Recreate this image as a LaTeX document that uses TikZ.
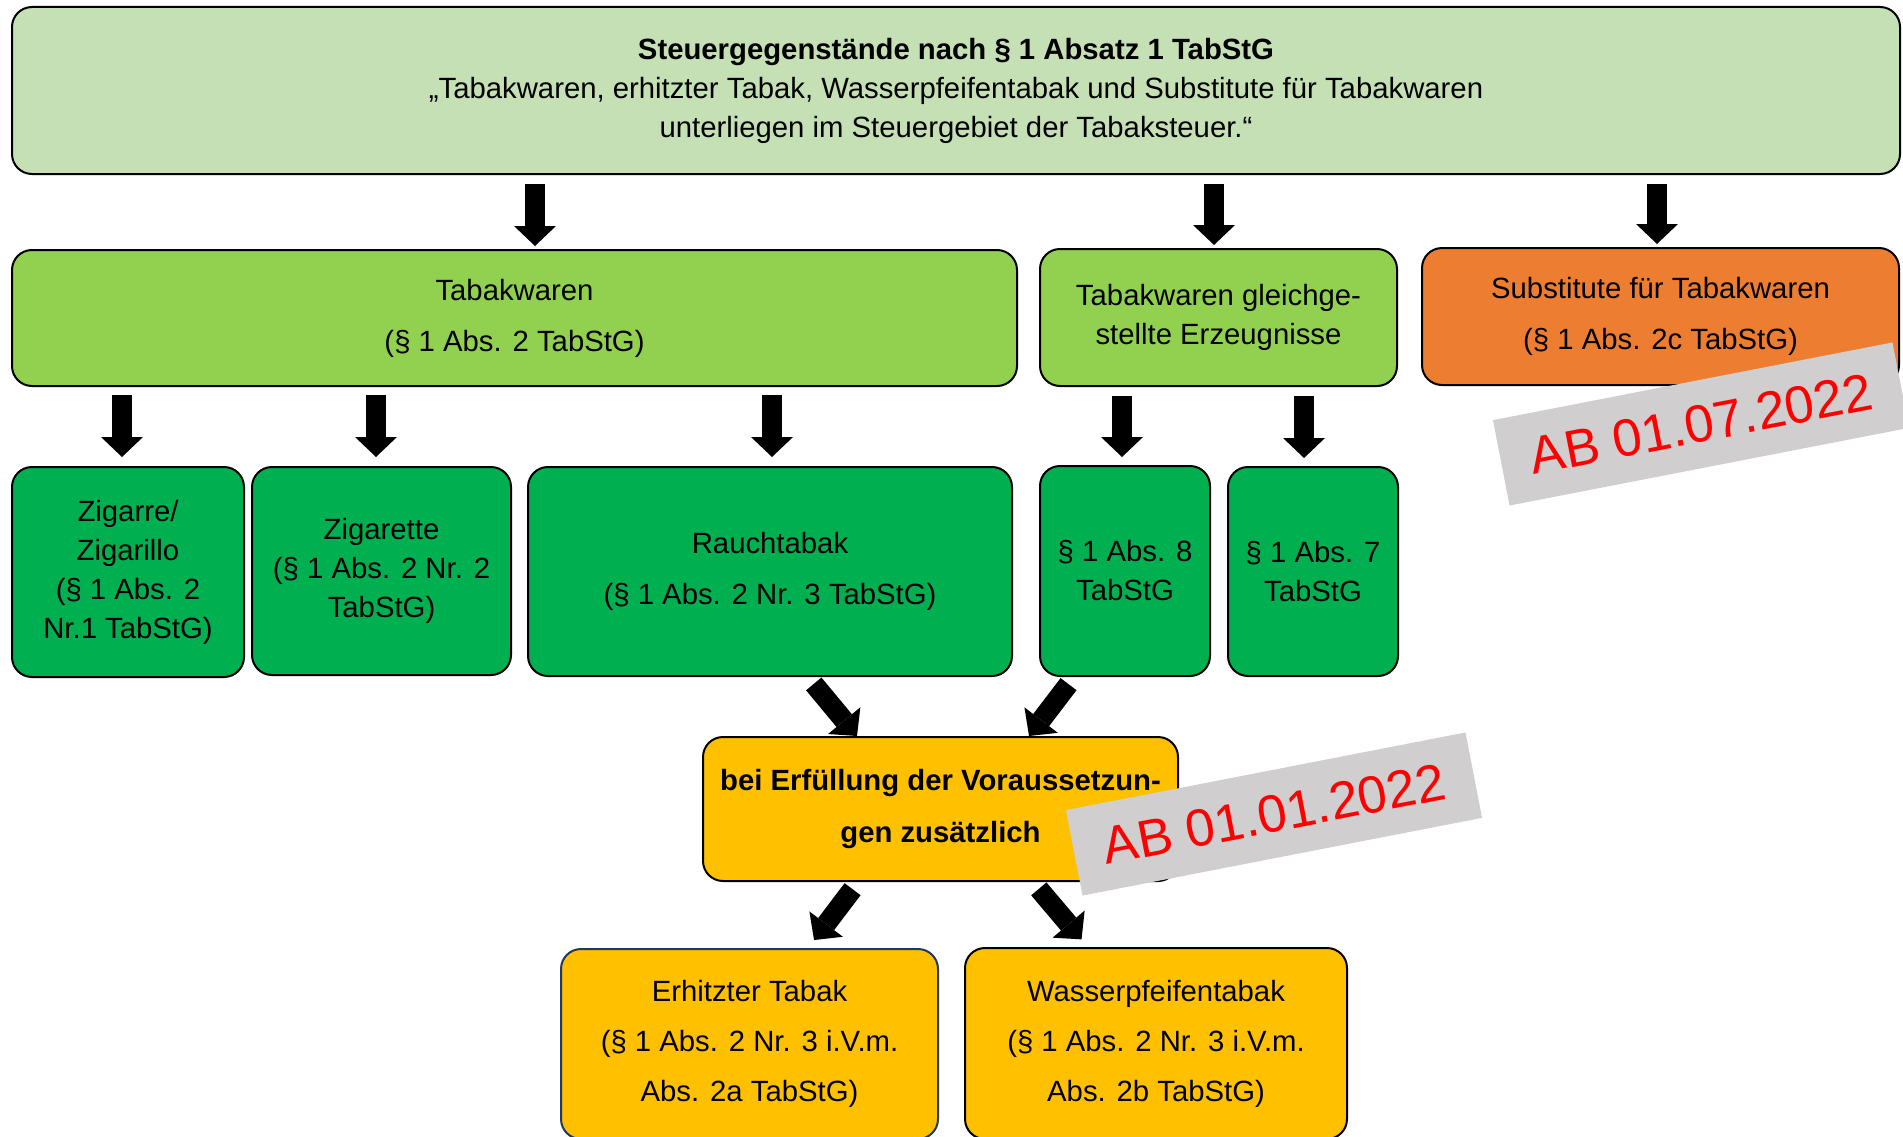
\documentclass[tikz,border=0pt]{standalone}
\usepackage{fontspec}
\setmainfont{Liberation Sans}
\usepackage{xcolor}
\usetikzlibrary{arrows.meta}
\definecolor{kopfgruen}{HTML}{C5E0B4}
\definecolor{hellgruen}{HTML}{92D050}
\definecolor{dunkelgruen}{HTML}{00B050}
\definecolor{substorange}{HTML}{ED7D31}
\definecolor{gelb}{HTML}{FFC000}
\definecolor{stempelgrau}{HTML}{D0CECE}
\definecolor{rahmenblau}{HTML}{1F3864}

\begin{document}
\begin{tikzpicture}[x=1pt,y=-1pt,
		kasten/.style={draw,line width=2pt,rounded corners=20pt,align=center,inner sep=0pt,font=\fontsize{29.3}{39}\selectfont},
		weit/.style={font=\fontsize{29.3}{51}\selectfont},
		pfeil/.style={line width=20pt,-{Triangle[width=42pt,length=20pt,line width=0pt]}},
		stempel/.style={fill=stempelgrau,text=red,rotate=11,minimum width=407pt,minimum height=87pt,inner sep=0pt,font=\fontsize{52.5}{60}\selectfont}]
			\useasboundingbox (0,0) rectangle (1903,1137);
			\clip (0,0) rectangle (1903,1137);
			
			\node[kasten,fill=kopfgruen,minimum width=1888pt,minimum height=167pt] (kopf) at (956,90.5)
				{\textbf{Steuergegenstände nach § 1 Absatz 1 TabStG}\\„Tabakwaren, erhitzter Tabak, Wasserpfeifentabak und Substitute für Tabakwaren\\unterliegen im Steuergebiet der Tabaksteuer.“};
			
			\node[kasten,weit,fill=hellgruen,minimum width=1005pt,minimum height=136pt] (tabak) at (514.5,318) {Tabakwaren\\(§ 1 Abs. 2 TabStG)};
			\node[kasten,fill=hellgruen,minimum width=357pt,minimum height=137pt] (gleich) at (1218.5,317.5) {Tabakwaren gleichge-\\stellte Erzeugnisse};
			\node[kasten,weit,fill=substorange,minimum width=477pt,minimum height=137pt] (subst) at (1660.5,316.5) {Substitute für Tabakwaren\\(§ 1 Abs. 2c TabStG)};
			
			\node[kasten,fill=dunkelgruen,minimum width=232pt,minimum height=210pt] (zigarre) at (128,572) {Zigarre/\\Zigarillo\\(§ 1 Abs. 2\\Nr.1 TabStG)};
			\node[kasten,fill=dunkelgruen,minimum width=259pt,minimum height=208pt] (zigarette) at (381.5,571) {Zigarette\\(§ 1 Abs. 2 Nr. 2\\TabStG)};
			\node[kasten,weit,fill=dunkelgruen,minimum width=484pt,minimum height=209pt] (rauch) at (770,571.5) {Rauchtabak\\(§ 1 Abs. 2 Nr. 3 TabStG)};
			\node[kasten,fill=dunkelgruen,minimum width=170pt,minimum height=210pt] (abs8) at (1125,571) {§ 1 Abs. 8\\TabStG};
			\node[kasten,fill=dunkelgruen,minimum width=170pt,minimum height=209pt] (abs7) at (1313,571.5) {§ 1 Abs. 7\\TabStG};
			
			\node[kasten,fill=gelb,minimum width=475pt,minimum height=144pt,font=\fontsize{29.3}{52}\selectfont\bfseries] (bei) at (940.5,809) {bei Erfüllung der Voraussetzun-\\gen zusätzlich};
			
			\node[kasten,fill=gelb,draw=rahmenblau,font=\fontsize{29.3}{50}\selectfont,minimum width=377pt,minimum height=190pt] (erhitzt) at (749.5,1044) {Erhitzter Tabak\\(§ 1 Abs. 2 Nr. 3 i.V.m.\\Abs. 2a TabStG)};
			\node[kasten,fill=gelb,font=\fontsize{29.3}{50}\selectfont,minimum width=382pt,minimum height=191pt] (wasser) at (1156,1043.5) {Wasserpfeifentabak\\(§ 1 Abs. 2 Nr. 3 i.V.m.\\Abs. 2b TabStG)};
			
			\draw[pfeil,shorten <=9pt,shorten >=3pt] (kopf.south -| 535,0) -- (tabak.north -| 535,0);
			\draw[pfeil,shorten <=9pt,shorten >=3pt] (kopf.south -| 1214,0) -- (gleich.north -| 1214,0);
			\draw[pfeil,shorten <=9pt,shorten >=3pt] (kopf.south -| 1657,0) -- (subst.north -| 1657,0);
			
			\draw[pfeil,shorten <=8pt,shorten >=9pt] (tabak.south -| 122,0) -- (zigarre.north -| 122,0);
			\draw[pfeil,shorten <=8pt,shorten >=9pt] (tabak.south -| 376,0) -- (zigarette.north -| 376,0);
			\draw[pfeil,shorten <=8pt,shorten >=9pt] (tabak.south -| 772,0) -- (rauch.north -| 772,0);
			\draw[pfeil,shorten <=9pt,shorten >=8pt] (gleich.south -| 1122,0) -- (abs8.north -| 1122,0);
			\draw[pfeil,shorten <=9pt,shorten >=8pt] (gleich.south -| 1304,0) -- (abs7.north -| 1304,0);
			
			\draw[pfeil,shorten <=9pt] (rauch.south -| 808,0) -- (bei.north -| 857,0);
			\draw[pfeil,shorten <=9pt] (abs8.south -| 1074,0) -- (bei.north -| 1029,0);
			\draw[pfeil,shorten <=9pt,shorten >=10pt] (bei.south -| 858,0) -- (erhitzt.north -| 808,0);
			\draw[pfeil,shorten <=9pt,shorten >=10pt] (bei.south -| 1033,0) -- (wasser.north -| 1088,0);
			
			\node[stempel] (stempel1) at (1701,424) {AB 01.07.2022};
			\node[stempel] (stempel2) at (1274,814) {AB 01.01.2022};
		\end{tikzpicture}
\end{document}
